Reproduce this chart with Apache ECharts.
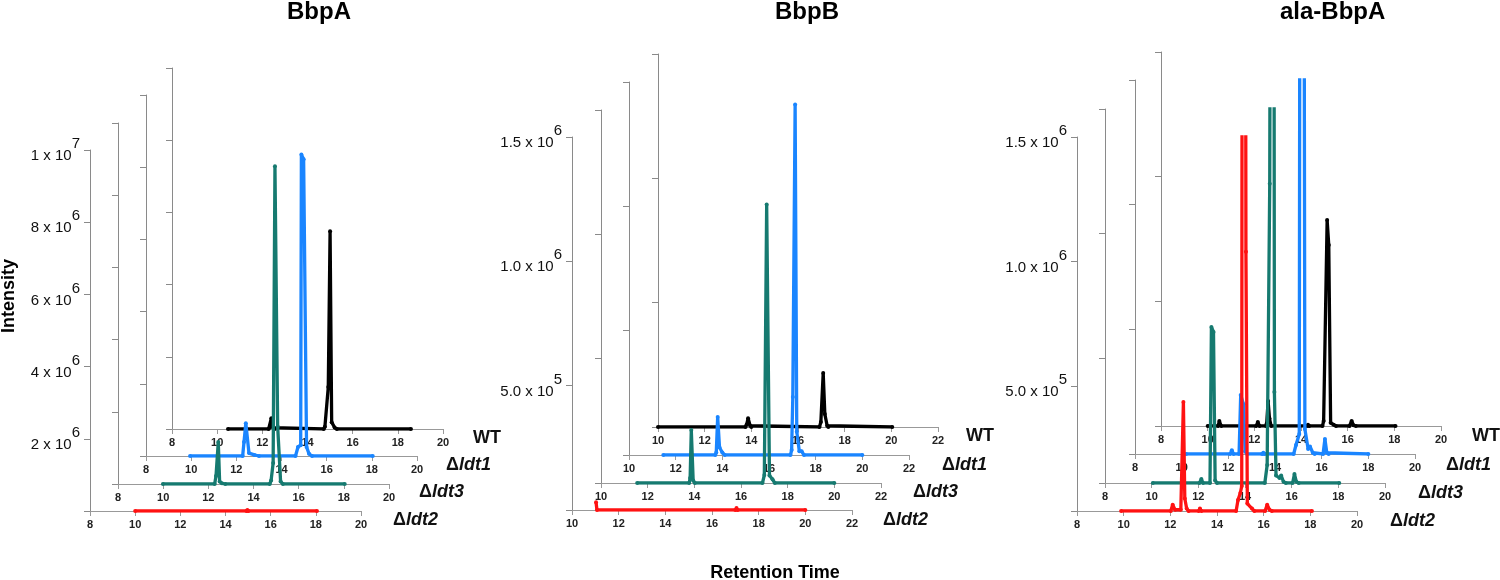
<!DOCTYPE html>
<html><head><meta charset="utf-8">
<script src="https://cdn.jsdelivr.net/npm/echarts@6/dist/echarts.min.js"></script>
<style>html,body{margin:0;padding:0;background:#fff}#c{width:1500px;height:580px}</style>
</head><body><div id="c"></div>
<script>
// ---------- data ----------
const panelTitles = ['BbpA', 'BbpB', 'ala-BbpA'];
const strainNames = ['WT', 'ldt1', 'ldt3', 'ldt2']; // back to front
const xTicksA = [8, 10, 12, 14, 16, 18, 20];
const xTicksB = [10, 12, 14, 16, 18, 20, 22];
const yTicksA = [0, 2e6, 4e6, 6e6, 8e6, 1e7];
const yTicksB = [0, 5e5, 1e6, 1.5e6];

// BbpA  [retention time, intensity]
const bbpA_WT = [[10.48,0],[12.28,0],[12.33,0.05e6],[12.40,0.30e6],[12.47,0.04e6],[12.55,0],[14.72,0],[14.77,0.06e6],[14.92,1.16e6],[15.00,5.48e6],[15.07,0.19e6],[15.20,0.04e6],[15.30,0],[18.58,0]];
const bbpA_ldt1 = [[9.95,0],[12.28,0],[12.34,0.39e6],[12.42,0.91e6],[12.56,0.08e6],[12.80,0.03e6],[13.00,0],[14.62,0],[14.73,0.25e6],[14.85,0.30e6],[14.88,8.35e6],[14.98,8.22e6],[15.11,0.25e6],[15.22,0.06e6],[15.35,0],[18.04,0]];
const bbpA_ldt3 = [[9.99,0],[12.28,0],[12.34,0.22e6],[12.44,1.16e6],[12.50,0.07e6],[12.60,0.02e6],[12.75,0],[14.72,0],[14.78,0.10e6],[14.87,0.58e6],[14.95,8.80e6],[15.07,1.59e6],[15.20,0.07e6],[15.30,0],[18.04,0]];
const bbpA_ldt2 = [[10.00,0],[14.93,0],[14.97,0.03e6],[15.01,0],[18.05,0]];

// BbpB
const bbpB_WT = [[10.00,0],[13.75,0],[13.80,0.01e6],[13.86,0.035e6],[13.95,0.005e6],[14.00,0],[16.92,0],[16.98,0.02e6],[17.08,0.217e6],[17.15,0.052e6],[17.25,0.005e6],[17.30,0],[20.04,0]];
const bbpB_ldt1 = [[11.47,0],[13.70,0],[13.74,0.01e6],[13.80,0.153e6],[13.88,0.03e6],[14.00,0.01e6],[14.10,0],[16.92,0],[16.97,0.02e6],[17.02,0.233e6],[17.12,1.41e6],[17.19,0.094e6],[17.30,0.015e6],[17.40,0.015e6],[17.50,0],[20.00,0]];
const bbpB_ldt3 = [[11.55,0],[13.78,0],[13.82,0.02e6],[13.87,0.213e6],[13.95,0.01e6],[14.02,0],[16.92,0],[17.00,0.032e6],[17.10,1.12e6],[17.22,0.03e6],[17.35,0.015e6],[17.45,0],[20.00,0]];
const bbpB_ldt2 = [[11.03,0.031e6],[11.07,0],[17.00,0],[17.05,0.008e6],[17.10,0],[20.00,0]];

// ala-BbpA
const ala_WT = [[10.00,0],[10.45,0],[10.50,0.02e6],[10.58,0],[12.08,0],[12.15,0.016e6],[12.22,0],[12.50,0],[12.53,0.01e6],[12.59,0.10e6],[12.65,0.03e6],[12.72,0],[14.25,0],[14.30,0.005e6],[14.35,0],[14.92,0],[14.97,0.02e6],[15.12,0.826e6],[15.19,0.726e6],[15.27,0.013e6],[15.40,0.005e6],[15.50,0],[16.08,0],[16.17,0.02e6],[16.25,0.003e6],[16.35,0],[18.05,0]];
const ala_ldt1 = [[10.19,0],[12.08,0],[12.15,0.015e6],[12.22,0],[12.46,0],[12.53,0.237e6],[12.65,0.20e6],[12.72,0.01e6],[12.80,0],[13.45,0],[13.50,0.005e6],[13.55,0],[14.80,0],[14.90,0.036e6],[15.04,0.08e6],[15.07,2.5e6],[15.24,2.5e6],[15.28,0.10e6],[15.42,0.02e6],[15.50,0.03e6],[15.62,0.005e6],[15.70,0],[16.06,0],[16.14,0.06e6],[16.22,0.005e6],[16.30,0],[18.00,0]];
const ala_ldt3 = [[10.05,0],[12.05,0],[12.13,0.016e6],[12.20,0],[12.50,0],[12.56,0.626e6],[12.65,0.606e6],[12.72,0.01e6],[12.80,0],[14.85,0],[14.95,0.072e6],[15.06,1.20e6],[15.09,2.5e6],[15.24,2.5e6],[15.26,0.365e6],[15.33,0.03e6],[15.48,0.02e6],[15.55,0.03e6],[15.65,0.005e6],[15.75,0],[16.04,0],[16.12,0.036e6],[16.20,0.005e6],[16.30,0],[18.04,0]];
const ala_ldt2 = [[9.89,0],[12.02,0],[12.10,0.025e6],[12.20,0.005e6],[12.45,0.005e6],[12.56,0.437e6],[12.62,0.05e6],[12.70,0.01e6],[12.78,0],[13.22,0],[13.27,0.01e6],[13.33,0],[14.82,0],[14.90,0.044e6],[15.00,0.072e6],[15.06,0.10e6],[15.08,2.5e6],[15.22,2.5e6],[15.24,1.04e6],[15.30,0.03e6],[15.50,0.01e6],[15.60,0],[16.06,0],[16.15,0.025e6],[16.25,0.005e6],[16.35,0],[18.07,0]];

const panelData = [
  [bbpA_WT, bbpA_ldt1, bbpA_ldt3, bbpA_ldt2],
  [bbpB_WT, bbpB_ldt1, bbpB_ldt3, bbpB_ldt2],
  [ala_WT, ala_ldt1, ala_ldt3, ala_ldt2]
];
const panelXTicks = [xTicksA, xTicksB, xTicksA];
const panelYTicks = [yTicksA, yTicksB, yTicksB];

// ---------- layout / style ----------
const colors = ['#000000', '#1a85ff', '#167a70', '#ff1212'];
const layout = [
  {left: [172, 146, 118, 90], bottom: [429, 456, 484, 511], width: 271, height: 361, titleX: 287, lab: [[473,439],[446,466],[419,493],[393,521]], dec: 0},
  {left: [658, 629, 601, 572], bottom: [427, 455, 483, 510], width: 280, height: 373, titleX: 775, lab: [[966,437],[942,466],[913,493],[883,521]], dec: 1},
  {left: [1161, 1135, 1105, 1077], bottom: [426, 454, 483, 511], width: 280, height: 374, titleX: 1280, lab: [[1472,437],[1446,466],[1418,494],[1390,522]], dec: 1}
];
const FONT = '"Liberation Sans", Arial, sans-serif';
const NARROW = '"Liberation Sans Narrow", "Arial Narrow", "Liberation Sans", sans-serif';

function sciLabel(v, dec) {
  if (v === 0) return '';
  const e = Math.floor(Math.log10(v) + 1e-9);
  const m = v / Math.pow(10, e);
  const ms = dec ? m.toFixed(dec) : String(Math.round(m));
  return '{m|' + ms + ' x 10}{s|' + e + '}';
}

const grids = [], xAxes = [], yAxes = [], series = [], graphics = [];
let idx = 0;
layout.forEach((L, p) => {
  const xt = panelXTicks[p], yt = panelYTicks[p];
  for (let k = 0; k < 4; k++) {
    const front = (k === 3);
    grids.push({left: L.left[k], top: L.bottom[k] - L.height, width: L.width, height: L.height});
    xAxes.push({
      type: 'value', gridIndex: idx, min: xt[0], max: xt[xt.length - 1], interval: xt[1] - xt[0],
      axisLine: {onZero: false, lineStyle: {color: '#999999', width: 1}},
      axisTick: {show: true, length: 5, lineStyle: {color: '#999999'}},
      axisLabel: {color: '#222', fontSize: 11, fontWeight: 'bold', fontFamily: NARROW, margin: 8},
      splitLine: {show: false}
    });
    yAxes.push({
      type: 'value', gridIndex: idx, min: yt[0], max: yt[yt.length - 1], interval: yt[1] - yt[0],
      axisLine: {show: true, onZero: false, lineStyle: {color: '#8a8a8a', width: 1}},
      axisTick: {show: true, length: 6, lineStyle: {color: '#8a8a8a'}},
      axisLabel: front ? {
        show: true, margin: 10, color: '#111', fontFamily: FONT,
        formatter: (v) => sciLabel(v, L.dec),
        rich: {
          m: {fontSize: 15, fontFamily: FONT, color: '#111', verticalAlign: 'bottom'},
          s: {fontSize: 15, fontFamily: FONT, color: '#111', verticalAlign: 'top', padding: [0, 0, 12, 0]}
        }
      } : {show: false},
      splitLine: {show: false}
    });
    series.push({
      type: 'line', name: panelTitles[p] + ' ' + strainNames[k],
      xAxisIndex: idx, yAxisIndex: idx, data: panelData[p][k],
      symbol: 'circle', symbolSize: 4, showAllSymbol: true, clip: true,
      lineStyle: {color: colors[k], width: 3.3},
      itemStyle: {color: colors[k]},
      z: 2 + k, animation: false
    });
    const lx = L.lab[k][0], ly = L.lab[k][1];
    graphics.push({
      type: 'text', left: lx, top: ly - 10,
      style: k === 0 ? {text: 'WT', fontSize: 18, fontWeight: 'bold', fontFamily: FONT, fill: '#111'}
        : {text: '{a|Δ}{b|' + strainNames[k] + '}', rich: {
            a: {fontSize: 18, fontWeight: 'bold', fontFamily: FONT, fill: '#111', color: '#111'},
            b: {fontSize: 18, fontWeight: 'bold', fontStyle: 'italic', fontFamily: FONT, fill: '#111', color: '#111'}}}
    });
    idx++;
  }
  graphics.push({type: 'text', left: L.titleX, top: 0,
    style: {text: panelTitles[p], fontSize: 24, fontWeight: 'bold', fontFamily: FONT, fill: '#000', textAlign: 'center'}});
});
graphics.push({type: 'text', x: 9, y: 296, rotation: Math.PI / 2,
  style: {text: 'Intensity', fontSize: 18, fontWeight: 'bold', fontFamily: FONT, fill: '#000', textAlign: 'center', textVerticalAlign: 'middle'}});
graphics.push({type: 'text', x: 775, y: 573,
  style: {text: 'Retention Time', fontSize: 18, fontWeight: 'bold', fontFamily: FONT, fill: '#000', textAlign: 'center', textVerticalAlign: 'middle'}});

const chart = echarts.init(document.getElementById('c'), null, {renderer: 'canvas'});
chart.setOption({
  backgroundColor: '#ffffff',
  animation: false,
  grid: grids, xAxis: xAxes, yAxis: yAxes, series: series, graphic: graphics
});
</script></body></html>
